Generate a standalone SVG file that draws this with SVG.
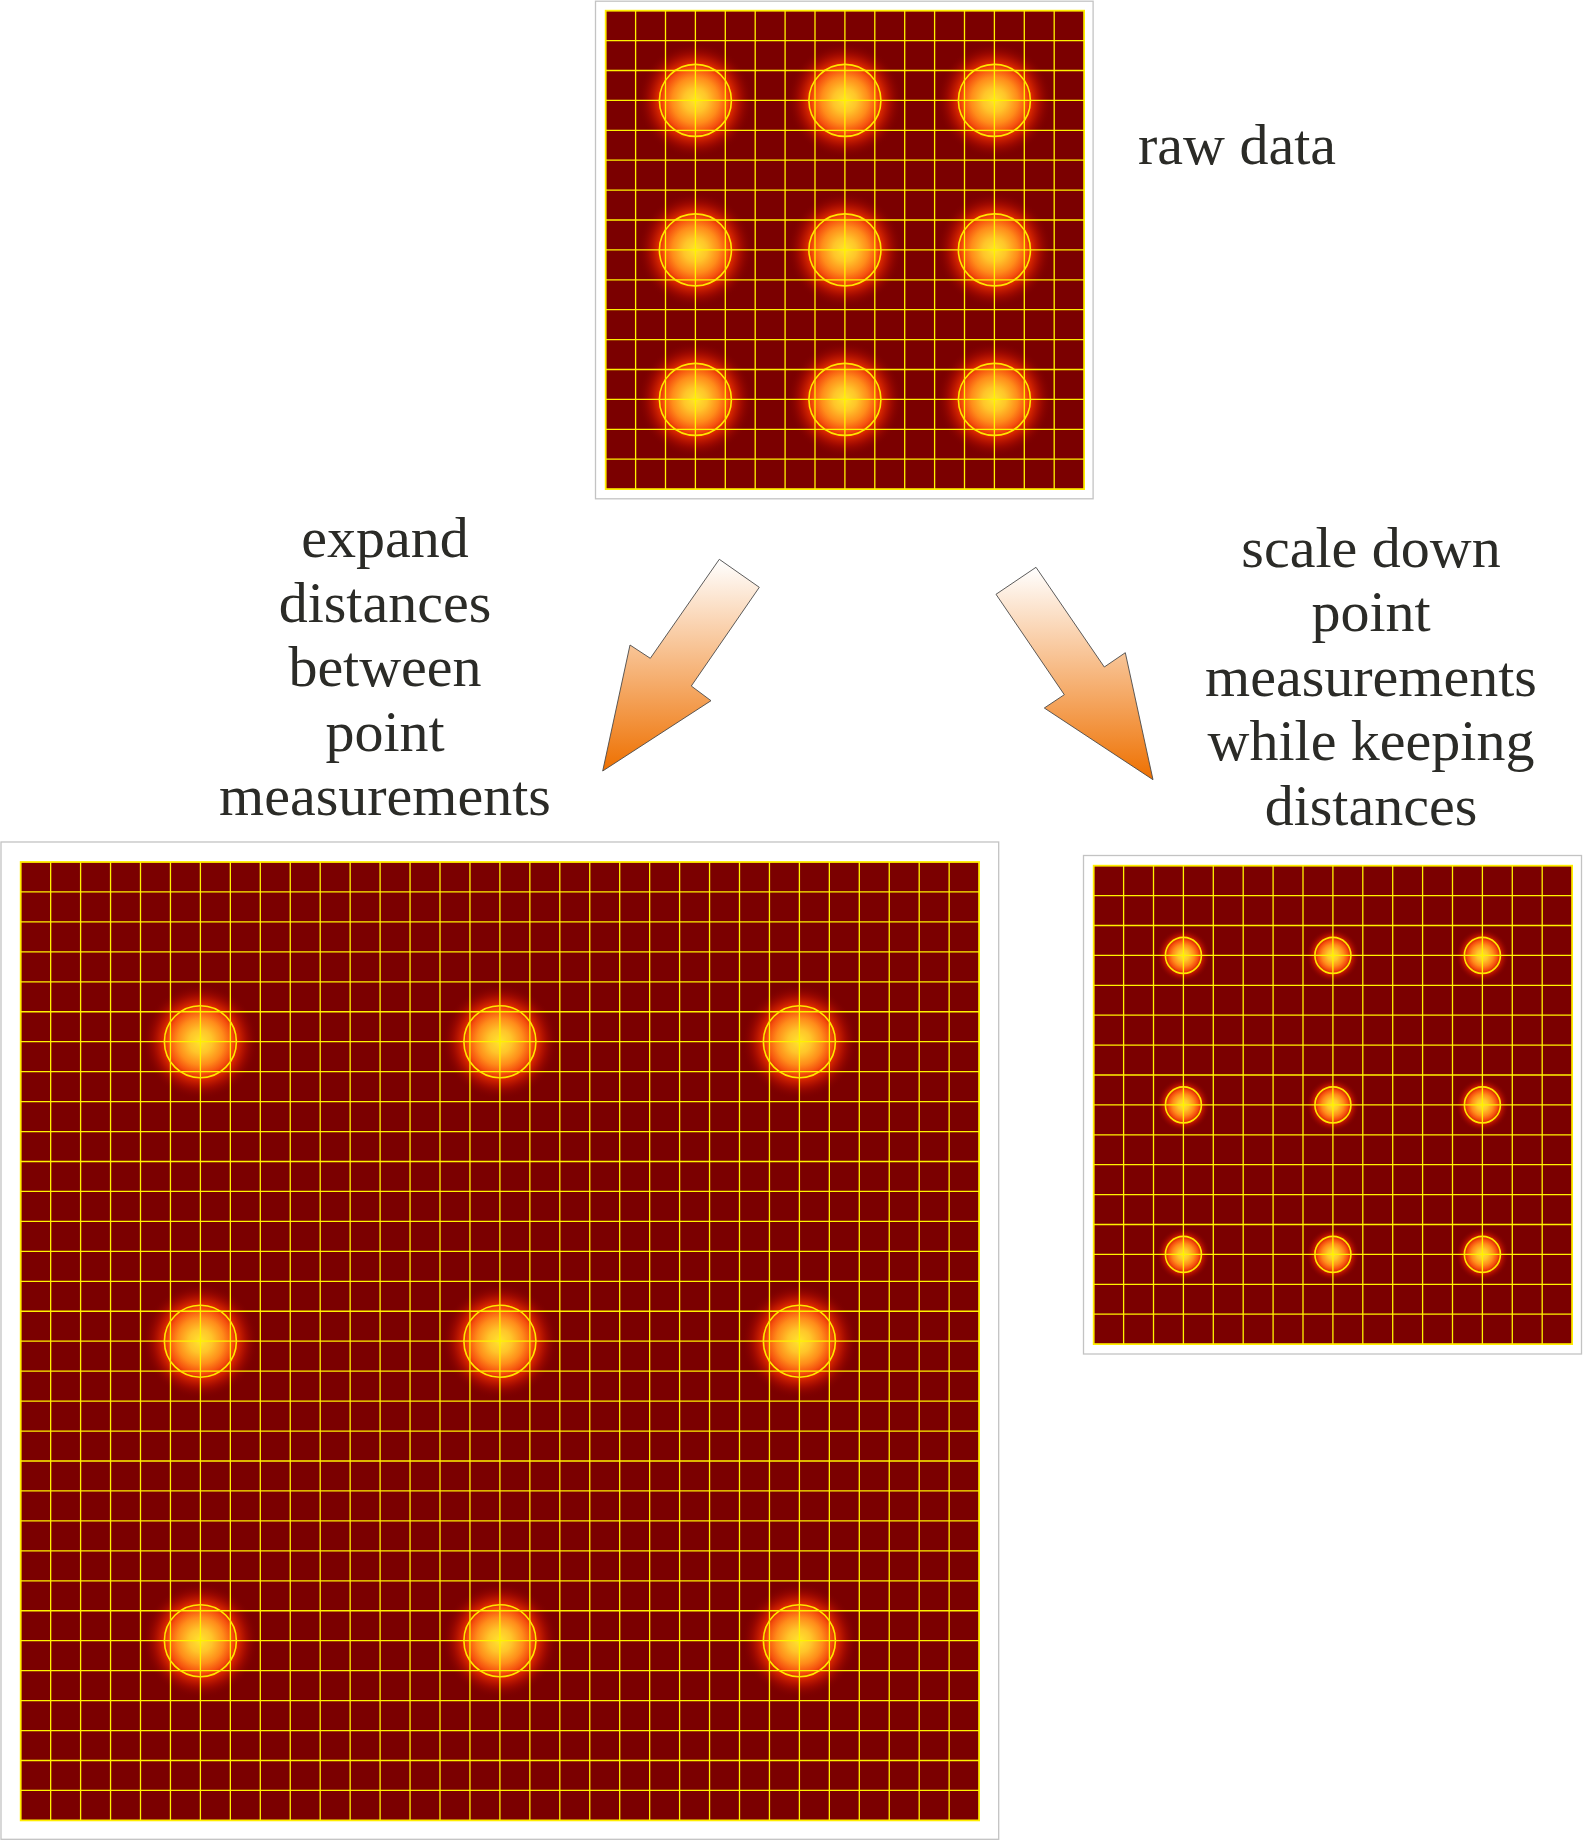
<svg xmlns="http://www.w3.org/2000/svg" xmlns:xlink="http://www.w3.org/1999/xlink" width="1583" height="1841" viewBox="0 0 1583 1841">
<style>
.frame{fill:#fff;stroke:#c3c3c3;stroke-width:1.3}
.field{fill:#7b0000;stroke:#ffee00;stroke-width:1.8}
.grid{fill:none;stroke:#fff200;stroke-width:1.3}
.ring{fill:none;stroke:#ffe600;stroke-width:1.6}
.glow{fill:url(#glow)}
.arrow{stroke:#4a4a4a;stroke-width:0.9;fill:url(#arrowGrad)}
.label{font-family:"Liberation Serif","Times New Roman",serif;font-size:58px;fill:#2b2b27}
.mid{text-anchor:middle}
</style>
<defs>
<radialGradient id="glow" cx="0.5" cy="0.5" r="0.5">
<stop offset="0" stop-color="#ffe52e"/>
<stop offset="0.2" stop-color="#ffc52a"/>
<stop offset="0.4" stop-color="#ff8c1a"/>
<stop offset="0.55" stop-color="#f5500e"/>
<stop offset="0.65" stop-color="#d82600"/>
<stop offset="0.8" stop-color="#a80c00" stop-opacity="0.8"/>
<stop offset="1" stop-color="#7b0000" stop-opacity="0"/>
</radialGradient>
<linearGradient id="arrowGrad" x1="0" y1="0" x2="0" y2="1">
<stop offset="0" stop-color="#ffffff"/>
<stop offset="1" stop-color="#ee7000"/>
</linearGradient>
<path id="grid16" class="grid" d="M29.9 0V478.4M59.8 0V478.4M89.7 0V478.4M119.6 0V478.4M149.5 0V478.4M179.4 0V478.4M209.3 0V478.4M239.2 0V478.4M269.1 0V478.4M299 0V478.4M328.9 0V478.4M358.8 0V478.4M388.7 0V478.4M418.6 0V478.4M448.5 0V478.4M0 29.9H478.4M0 59.8H478.4M0 89.7H478.4M0 119.6H478.4M0 149.5H478.4M0 179.4H478.4M0 209.3H478.4M0 239.2H478.4M0 269.1H478.4M0 299H478.4M0 328.9H478.4M0 358.8H478.4M0 388.7H478.4M0 418.6H478.4M0 448.5H478.4"/>
<path id="grid32" class="grid" d="M29.95 0V958.4M59.9 0V958.4M89.85 0V958.4M119.8 0V958.4M149.75 0V958.4M179.7 0V958.4M209.65 0V958.4M239.6 0V958.4M269.55 0V958.4M299.5 0V958.4M329.45 0V958.4M359.4 0V958.4M389.35 0V958.4M419.3 0V958.4M449.25 0V958.4M479.2 0V958.4M509.15 0V958.4M539.1 0V958.4M569.05 0V958.4M599 0V958.4M628.95 0V958.4M658.9 0V958.4M688.85 0V958.4M718.8 0V958.4M748.75 0V958.4M778.7 0V958.4M808.65 0V958.4M838.6 0V958.4M868.55 0V958.4M898.5 0V958.4M928.45 0V958.4M0 29.95H958.4M0 59.9H958.4M0 89.85H958.4M0 119.8H958.4M0 149.75H958.4M0 179.7H958.4M0 209.65H958.4M0 239.6H958.4M0 269.55H958.4M0 299.5H958.4M0 329.45H958.4M0 359.4H958.4M0 389.35H958.4M0 419.3H958.4M0 449.25H958.4M0 479.2H958.4M0 509.15H958.4M0 539.1H958.4M0 569.05H958.4M0 599H958.4M0 628.95H958.4M0 658.9H958.4M0 688.85H958.4M0 718.8H958.4M0 748.75H958.4M0 778.7H958.4M0 808.65H958.4M0 838.6H958.4M0 868.55H958.4M0 898.5H958.4M0 928.45H958.4"/>
</defs>

<g id="raw-data-panel">
<rect class="frame" x="595.5" y="1.2" width="497.6" height="497.6"/>
<g transform="translate(605.7,10.7)">
<rect class="field" x="0" y="0" width="478.4" height="478.4"/>
<circle class="glow" cx="89.7" cy="89.7" r="58"/>
<circle class="glow" cx="239.2" cy="89.7" r="58"/>
<circle class="glow" cx="388.7" cy="89.7" r="58"/>
<circle class="glow" cx="89.7" cy="239.2" r="58"/>
<circle class="glow" cx="239.2" cy="239.2" r="58"/>
<circle class="glow" cx="388.7" cy="239.2" r="58"/>
<circle class="glow" cx="89.7" cy="388.7" r="58"/>
<circle class="glow" cx="239.2" cy="388.7" r="58"/>
<circle class="glow" cx="388.7" cy="388.7" r="58"/>
<use xlink:href="#grid16"/>
<circle class="ring" cx="89.7" cy="89.7" r="36"/>
<circle class="ring" cx="239.2" cy="89.7" r="36"/>
<circle class="ring" cx="388.7" cy="89.7" r="36"/>
<circle class="ring" cx="89.7" cy="239.2" r="36"/>
<circle class="ring" cx="239.2" cy="239.2" r="36"/>
<circle class="ring" cx="388.7" cy="239.2" r="36"/>
<circle class="ring" cx="89.7" cy="388.7" r="36"/>
<circle class="ring" cx="239.2" cy="388.7" r="36"/>
<circle class="ring" cx="388.7" cy="388.7" r="36"/>
</g>
</g>

<g id="expanded-panel">
<rect class="frame" x="1" y="842" width="997.7" height="997.3"/>
<g transform="translate(20.7,862)">
<rect class="field" x="0" y="0" width="958.4" height="958.4"/>
<circle class="glow" cx="179.7" cy="179.7" r="58"/>
<circle class="glow" cx="479.2" cy="179.7" r="58"/>
<circle class="glow" cx="778.7" cy="179.7" r="58"/>
<circle class="glow" cx="179.7" cy="479.2" r="58"/>
<circle class="glow" cx="479.2" cy="479.2" r="58"/>
<circle class="glow" cx="778.7" cy="479.2" r="58"/>
<circle class="glow" cx="179.7" cy="778.7" r="58"/>
<circle class="glow" cx="479.2" cy="778.7" r="58"/>
<circle class="glow" cx="778.7" cy="778.7" r="58"/>
<use xlink:href="#grid32"/>
<circle class="ring" cx="179.7" cy="179.7" r="36"/>
<circle class="ring" cx="479.2" cy="179.7" r="36"/>
<circle class="ring" cx="778.7" cy="179.7" r="36"/>
<circle class="ring" cx="179.7" cy="479.2" r="36"/>
<circle class="ring" cx="479.2" cy="479.2" r="36"/>
<circle class="ring" cx="778.7" cy="479.2" r="36"/>
<circle class="ring" cx="179.7" cy="778.7" r="36"/>
<circle class="ring" cx="479.2" cy="778.7" r="36"/>
<circle class="ring" cx="778.7" cy="778.7" r="36"/>
</g>
</g>

<g id="scaled-panel">
<rect class="frame" x="1083.5" y="855.5" width="498" height="498.5"/>
<g transform="translate(1093.7,865.7)">
<rect class="field" x="0" y="0" width="478.4" height="478.4"/>
<circle class="glow" cx="89.7" cy="89.7" r="27"/>
<circle class="glow" cx="239.2" cy="89.7" r="27"/>
<circle class="glow" cx="388.7" cy="89.7" r="27"/>
<circle class="glow" cx="89.7" cy="239.2" r="27"/>
<circle class="glow" cx="239.2" cy="239.2" r="27"/>
<circle class="glow" cx="388.7" cy="239.2" r="27"/>
<circle class="glow" cx="89.7" cy="388.7" r="27"/>
<circle class="glow" cx="239.2" cy="388.7" r="27"/>
<circle class="glow" cx="388.7" cy="388.7" r="27"/>
<use xlink:href="#grid16"/>
<circle class="ring" cx="89.7" cy="89.7" r="18"/>
<circle class="ring" cx="239.2" cy="89.7" r="18"/>
<circle class="ring" cx="388.7" cy="89.7" r="18"/>
<circle class="ring" cx="89.7" cy="239.2" r="18"/>
<circle class="ring" cx="239.2" cy="239.2" r="18"/>
<circle class="ring" cx="388.7" cy="239.2" r="18"/>
<circle class="ring" cx="89.7" cy="388.7" r="18"/>
<circle class="ring" cx="239.2" cy="388.7" r="18"/>
<circle class="ring" cx="388.7" cy="388.7" r="18"/>
</g>
</g>

<g id="connectors">
<path class="arrow" d="M719.3 559.3L759.3 587.3L691.3 686L711 700.7L602.7 771L630 645L650.3 658.3Z"/>
<path class="arrow" d="M996 594.3L1036 567.3L1104.3 667L1125.3 652.7L1153 779.7L1044.3 708L1064.3 694.7Z"/>
</g>

<g id="labels">
<text class="label" x="1138" y="163.5">raw data</text>
<text class="label mid" x="385" y="557">expand</text>
<text class="label mid" x="385" y="621.5">distances</text>
<text class="label mid" x="385" y="686">between</text>
<text class="label mid" x="385" y="750.5">point</text>
<text class="label mid" x="385" y="815">measurements</text>
<text class="label mid" x="1371" y="566.5">scale down</text>
<text class="label mid" x="1371" y="631">point</text>
<text class="label mid" x="1371" y="695.5">measurements</text>
<text class="label mid" x="1371" y="760">while keeping</text>
<text class="label mid" x="1371" y="824.5">distances</text>
</g>
</svg>
